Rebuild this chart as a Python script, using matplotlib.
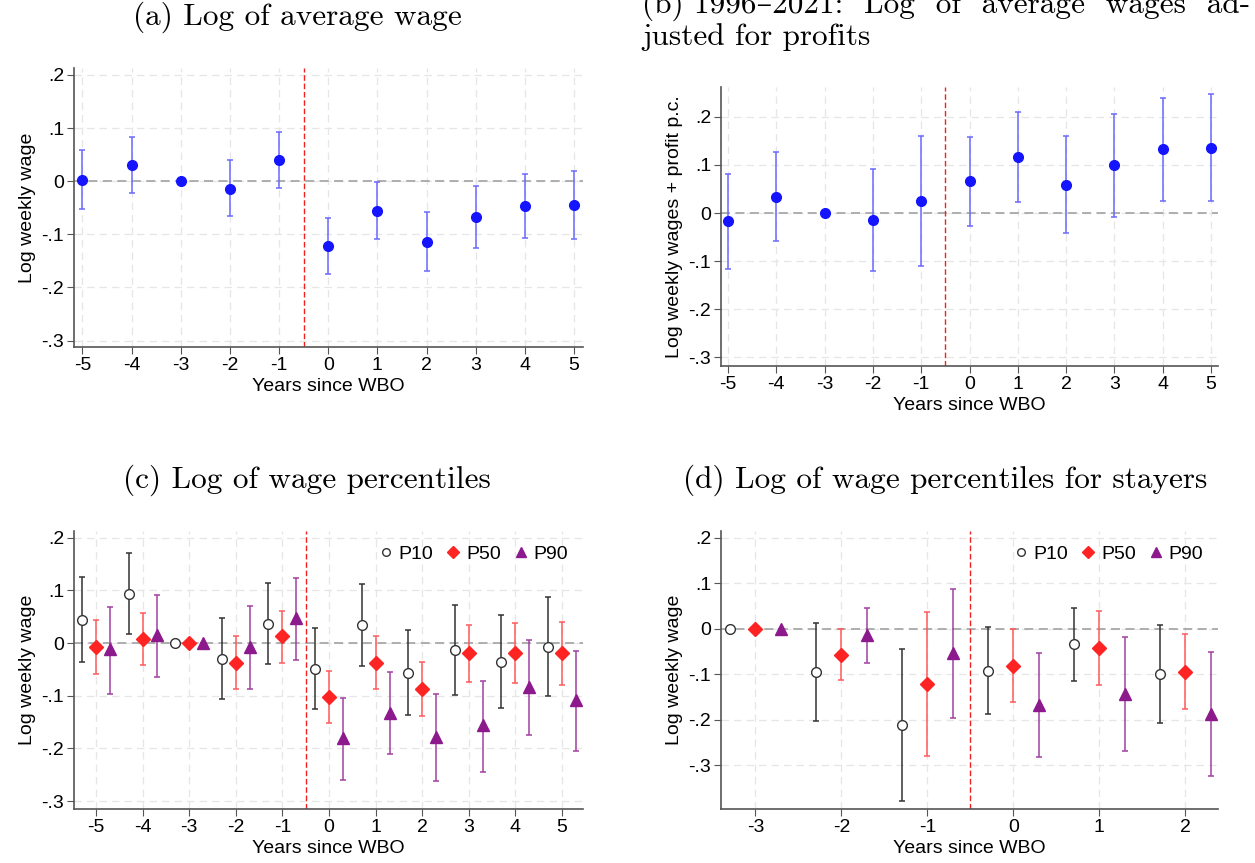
import matplotlib
matplotlib.use("Agg")
import matplotlib.pyplot as plt
import numpy as np
from matplotlib.lines import Line2D

plt.rcParams['font.family'] = ['Liberation Sans', 'DejaVu Sans']
plt.rcParams['font.size'] = 14

# ---- data ----
years_full = [-5, -4, -3, -2, -1, 0, 1, 2, 3, 4, 5]
years_stay = [-3, -2, -1, 0, 1, 2]

# (a) log of average wage
a_est = [0.003, 0.030, 0.0, -0.014, 0.040, -0.122, -0.056, -0.114, -0.067, -0.047, -0.044]
a_lo = [-0.053, -0.023, 0.0, -0.066, -0.013, -0.175, -0.109, -0.169, -0.125, -0.107, -0.109]
a_hi = [0.058, 0.083, 0.0, 0.039, 0.093, -0.070, -0.002, -0.058, -0.009, 0.014, 0.020]

# (b) adjusted for profits
b_est = [-0.017, 0.034, 0.0, -0.014, 0.025, 0.066, 0.116, 0.059, 0.099, 0.133, 0.135]
b_lo = [-0.116, -0.059, 0.0, -0.120, -0.111, -0.027, 0.022, -0.041, -0.008, 0.026, 0.025]
b_hi = [0.081, 0.127, 0.0, 0.092, 0.161, 0.159, 0.210, 0.160, 0.205, 0.240, 0.247]

# (c) wage percentiles
c_p10 = [0.044, 0.094, 0.0, -0.030, 0.036, -0.049, 0.034, -0.056, -0.013, -0.035, -0.008]
c_p10_lo = [-0.036, 0.018, 0.0, -0.107, -0.040, -0.126, -0.044, -0.137, -0.098, -0.123, -0.101]
c_p10_hi = [0.126, 0.172, 0.0, 0.047, 0.114, 0.028, 0.112, 0.025, 0.073, 0.053, 0.087]
c_p50 = [-0.008, 0.007, 0.0, -0.037, 0.013, -0.103, -0.037, -0.087, -0.019, -0.018, -0.019]
c_p50_lo = [-0.059, -0.042, 0.0, -0.087, -0.037, -0.152, -0.087, -0.139, -0.073, -0.075, -0.080]
c_p50_hi = [0.044, 0.057, 0.0, 0.013, 0.062, -0.053, 0.014, -0.035, 0.035, 0.039, 0.041]
c_p90 = [-0.012, 0.016, 0.0, -0.007, 0.047, -0.181, -0.132, -0.178, -0.156, -0.084, -0.108]
c_p90_lo = [-0.096, -0.064, 0.0, -0.087, -0.032, -0.260, -0.211, -0.261, -0.244, -0.174, -0.204]
c_p90_hi = [0.068, 0.092, 0.0, 0.070, 0.124, -0.104, -0.054, -0.097, -0.071, 0.006, -0.014]

# (d) wage percentiles for stayers
d_p10 = [0.0, -0.095, -0.212, -0.092, -0.034, -0.099]
d_p10_lo = [0.0, -0.202, -0.378, -0.188, -0.114, -0.206]
d_p10_hi = [0.0, 0.012, -0.045, 0.004, 0.046, 0.009]
d_p50 = [0.0, -0.057, -0.122, -0.081, -0.042, -0.095]
d_p50_lo = [0.0, -0.113, -0.279, -0.161, -0.124, -0.177]
d_p50_hi = [0.0, -0.001, 0.036, -0.001, 0.040, -0.012]
d_p90 = [0.0, -0.013, -0.053, -0.167, -0.143, -0.187]
d_p90_lo = [0.0, -0.075, -0.196, -0.282, -0.269, -0.324]
d_p90_hi = [0.0, 0.045, 0.087, -0.053, -0.018, -0.052]

yticks = [0.2, 0.1, 0.0, -0.1, -0.2, -0.3]
ytick_labels = ['.2', '.1', '0', '-.1', '-.2', '-.3']

titles = ['(a) Log of average wage',
          '(b) 1996–2021:  Log  of  average  wages  ad-\njusted for profits',
          '(c) Log of wage percentiles',
          '(d) Log of wage percentiles for stayers']

BLUE = '#1414ff'
RED = '#ff2424'
PURPLE = '#8c1a8c'
GREY = '#333333'

W, H = 1255, 863
fig = plt.figure(figsize=(W / 100, H / 100), dpi=100)


def make_ax(l, r, t, b):
    return fig.add_axes([l / W, 1 - b / H, (r - l) / W, (b - t) / H])


def style(ax, xticks, ylabel):
    for s in ['top', 'right']:
        ax.spines[s].set_visible(False)
    for s in ['left', 'bottom']:
        ax.spines[s].set_color('#555555')
        ax.spines[s].set_linewidth(1.2)
    ax.set_xticks(xticks)
    ax.set_xticklabels([str(v) for v in xticks])
    ax.set_yticks(yticks)
    ax.set_yticklabels(ytick_labels)
    ax.tick_params(length=5, color='#555555', labelsize=14, pad=2)
    ax.grid(True, color='#e6e6e6', linestyle=(0, (6, 4)), linewidth=0.9)
    ax.set_axisbelow(True)
    ax.axhline(0, color='#a8a8a8', linestyle=(0, (5, 3)), linewidth=1.3, zorder=1)
    ax.axvline(-0.5, color='#ee2222', linestyle=(0, (4, 2)), linewidth=1.0, zorder=1)
    ax.set_xlabel('Years since WBO', fontsize=14, labelpad=3)
    ax.set_ylabel(ylabel, fontsize=14, labelpad=4)


def errpts(ax, x, est, lo, hi, marker, mcolor, ecolor, mfc=None, ms=7):
    est = np.array(est)
    yerr = [est - np.array(lo), np.array(hi) - est]
    ax.errorbar(x, est, yerr=yerr, fmt='none', ecolor=ecolor, elinewidth=1.1,
                capsize=2, capthick=1.1, zorder=2)
    ax.plot(x, est, linestyle='none', marker=marker, ms=ms, color=mcolor,
            mfc=mfc if mfc is not None else mcolor, mew=1.0, zorder=3)


# (a)
ax_a = make_ax(74, 583, 68, 347)
style(ax_a, years_full, 'Log weekly wage')
errpts(ax_a, years_full, a_est, a_lo, a_hi, 'o', BLUE, '#6a6aff')
ax_a.set_xlim(-5.17, 5.18)
ax_a.set_ylim(-0.312, 0.213)

# (b)
ax_b = make_ax(721, 1218, 87, 366)
style(ax_b, years_full, 'Log weekly wages + profit p.c.')
errpts(ax_b, years_full, b_est, b_lo, b_hi, 'o', BLUE, '#6a6aff')
ax_b.set_xlim(-5.145, 5.145)
ax_b.set_ylim(-0.318, 0.262)


def pct_panel(ax, years, p10, p10lo, p10hi, p50, p50lo, p50hi, p90, p90lo, p90hi):
    x = np.array(years, dtype=float)
    errpts(ax, x - 0.3, p10, p10lo, p10hi, 'o', GREY, GREY, mfc='white', ms=7)
    errpts(ax, x, p50, p50lo, p50hi, 'D', RED, '#ff5a5a', ms=7)
    errpts(ax, x + 0.3, p90, p90lo, p90hi, '^', PURPLE, '#a040a0', ms=8)
    handles = [Line2D([], [], linestyle='none', marker='o', ms=5.5, color=GREY, mfc='white'),
               Line2D([], [], linestyle='none', marker='D', ms=6, color=RED),
               Line2D([], [], linestyle='none', marker='^', ms=6.5, color=PURPLE)]
    ax.legend(handles, ['P10', 'P50', 'P90'], loc='upper right', ncol=3, frameon=False,
              fontsize=14, handlelength=0.6, handletextpad=0.35, columnspacing=0.75,
              borderaxespad=0.35)


# (c)
ax_c = make_ax(74, 583, 531, 809)
style(ax_c, years_full, 'Log weekly wage')
pct_panel(ax_c, years_full, c_p10, c_p10_lo, c_p10_hi, c_p50, c_p50_lo, c_p50_hi,
          c_p90, c_p90_lo, c_p90_hi)
ax_c.set_xlim(-5.47, 5.45)
ax_c.set_ylim(-0.315, 0.213)

# (d)
ax_d = make_ax(721, 1218, 531, 809)
style(ax_d, years_stay, 'Log weekly wage')
pct_panel(ax_d, years_stay, d_p10, d_p10_lo, d_p10_hi, d_p50, d_p50_lo, d_p50_hi,
          d_p90, d_p90_lo, d_p90_hi)
ax_d.set_xlim(-3.4, 2.38)
ax_d.set_ylim(-0.396, 0.215)

# titles (Computer Modern look)
tfont = dict(family=['cmr10', 'DejaVu Serif'], fontsize=22.5)
fig.text(297 / W, 1 - 17 / H, titles[0], ha='center', va='center', **tfont)
fig.text(642 / W, 1 - 45 / H, titles[1], ha='left', va='baseline', linespacing=1.1, **tfont)
fig.text(307 / W, 1 - 480 / H, titles[2], ha='center', va='center', **tfont)
fig.text(945 / W, 1 - 480 / H, titles[3], ha='center', va='center', **tfont)

fig.savefig('out.png', dpi=100)
